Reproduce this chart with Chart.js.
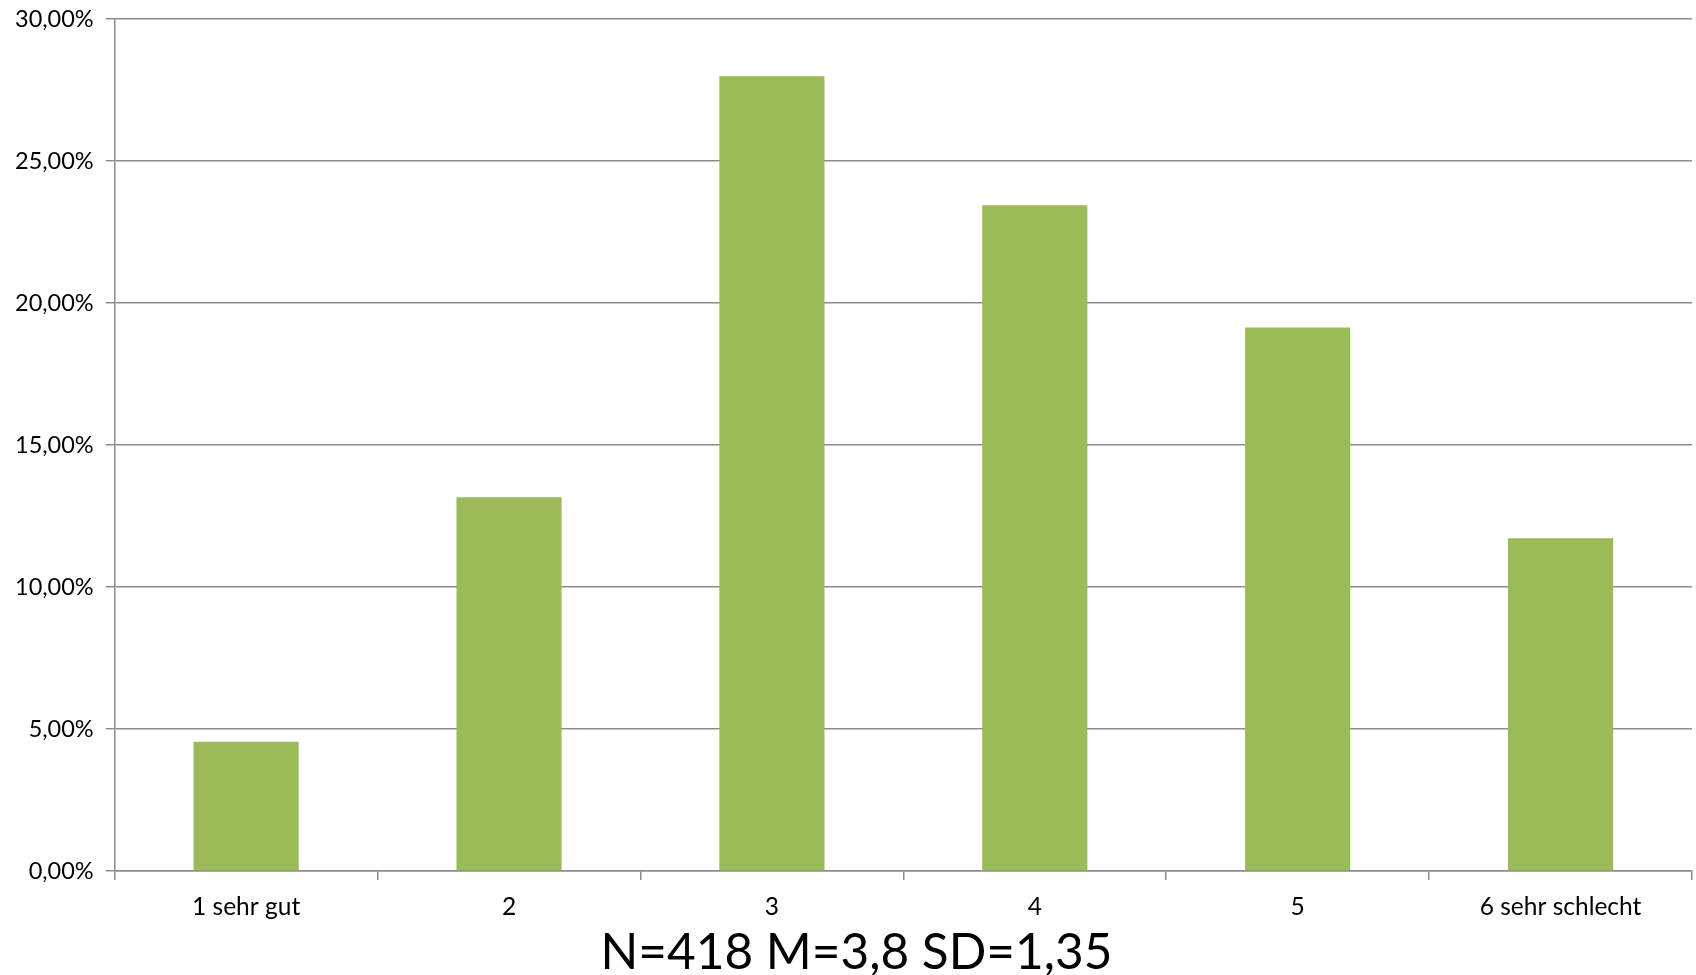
<!DOCTYPE html>
<html>
<head>
<meta charset="utf-8">
<script src="https://cdn.jsdelivr.net/npm/chart.js@4/dist/chart.umd.min.js"></script>
<style>
  html, body { margin: 0; padding: 0; background: #fff; }
  #wrap { width: 1696px; height: 975px; }
</style>
</head>
<body>
<div id="wrap"><canvas id="noten"></canvas></div>
<script>
const labels = ['1 sehr gut', '2', '3', '4', '5', '6 sehr schlecht'];
const anteile = [4.55, 13.16, 27.99, 23.44, 19.14, 11.72];
const yTicks = [0, 5, 10, 15, 20, 25, 30];
const unterschrift = 'N=418 M=3,8 SD=1,35';

const grau = '#8c8c8c';

// Unterschrift etwas nach rechts schieben (wie im Original)
const titelVersatz = {
  id: 'titelVersatz',
  afterLayout(chart) {
    chart.titleBlock.left += 18;
  }
};

const ctx = document.getElementById('noten').getContext('2d');
new Chart(ctx, {
  type: 'bar',
  data: {
    labels: labels,
    datasets: [{
      data: anteile,
      backgroundColor: '#9bbb59',
      borderWidth: 0,
      barPercentage: 0.4,
      categoryPercentage: 1
    }]
  },
  plugins: [titelVersatz],
  options: {
    responsive: true,
    maintainAspectRatio: false,
    animation: false,
    layout: { padding: { top: 0, right: 4, left: 3, bottom: 2 } },
    plugins: {
      legend: { display: false },
      tooltip: { enabled: false },
      title: {
        display: true,
        position: 'bottom',
        text: unterschrift,
        color: '#000',
        padding: { top: 0, bottom: 0 },
        font: { family: 'Lato', size: 49.5, weight: 'normal', lineHeight: 0.8 }
      }
    },
    scales: {
      x: {
        offset: true,
        grid: {
          offset: true,
          drawOnChartArea: false,
          drawTicks: true,
          tickLength: 9,
          color: grau,
          lineWidth: 1.5
        },
        border: { color: grau, width: 1.5 },
        ticks: {
          color: '#000',
          padding: 12,
          font: { family: 'Lato', size: 24.5 }
        }
      },
      y: {
        min: 0,
        max: 30,
        afterBuildTicks: (axis) => { axis.ticks = yTicks.map(v => ({ value: v })); },
        grid: {
          color: grau,
          lineWidth: 1.5,
          tickLength: 9
        },
        border: { color: grau, width: 1.5 },
        ticks: {
          color: '#000',
          padding: 12,
          font: { family: 'Lato', size: 23.5, lineHeight: 0.6 },
          callback: (v) => v.toFixed(2).replace('.', ',') + '%'
        }
      }
    }
  }
});
</script>
</body>
</html>
